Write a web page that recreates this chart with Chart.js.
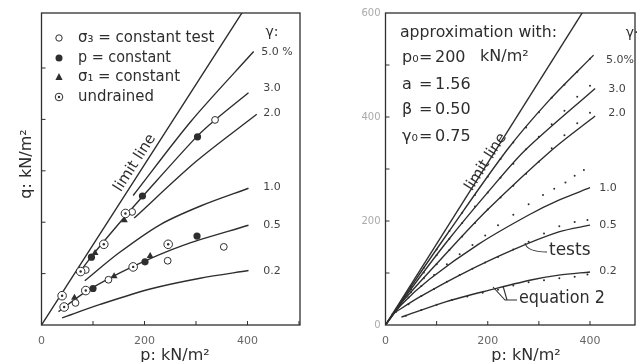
<!DOCTYPE html>
<html><head><meta charset="utf-8">
<script src="https://cdn.jsdelivr.net/npm/chart.js@4.4.1/dist/chart.umd.min.js"></script>
<style>
html,body{margin:0;padding:0;background:#fff;}
#wrap{position:relative;width:639px;height:362px;overflow:hidden;background:#fff;}
canvas{position:absolute;top:0;}
#cL{left:0;width:320px;height:362px;} #cR{left:320px;width:319px;height:362px;}
</style></head><body>
<div id="wrap"><canvas id="cL" width="320" height="362"></canvas><canvas id="cR" width="319" height="362"></canvas></div>
<script>
// ---------- tick labels / text ----------
const xTickLabels = ['0', '200', '400'];
const yTickLabelsRight = ['0', '200', '400', '600'];
const strainLabelsL = ['5.0 %', '3.0', '2.0', '1.0', '0.5', '0.2'];
const strainLabelsR = ['5.0%', '3.0', '2.0', '1.0', '0.5', '0.2'];
const legendLabels = ['σ₃ = constant test', 'p = constant', 'σ₁ = constant', 'undrained'];

// ---------- left panel: test curves (p, q in kN/m²) ----------
const limitP = [0, 400];            const limitQ = [0, 624];
const l50P = [178, 290, 412];        const l50Q = [252, 396, 532];
const l30P = [72, 100, 163, 198, 301, 337, 402]; const l30Q = [100, 137, 212, 252, 366, 399, 452];
const l20P = [180, 300, 418];        const l20Q = [208, 318, 410];
const l10P = [84, 150, 230, 310, 402]; const l10Q = [86, 140, 195, 232, 266];
const l05P = [33, 88, 178, 275, 402]; const l05Q = [26, 66, 114, 155, 194];
const l02P = [40, 114, 211, 308, 402]; const l02Q = [14, 40, 70, 91, 106];

// ---------- left panel: test points ----------
const openP = [66, 86, 130, 176, 245, 354, 337];   const openQ = [43, 107, 88, 220, 125, 152, 399];
const fillP = [100, 97, 196, 201, 302, 303];       const fillQ = [71, 132, 251, 123, 173, 366];
const triP = [64, 104, 141, 161, 211];             const triQ = [53, 140, 95, 204, 134];
const undrP = [40, 44, 76, 86, 121, 163, 178, 246]; const undrQ = [57, 35, 104, 67, 157, 217, 113, 157];

// ---------- right panel: tests (solid) ----------
const r50P = [0, 50, 120, 238, 320, 407];  const r50Q = [0, 74, 174, 337, 432, 519];
const r30P = [0, 40, 120, 200, 274, 410];  const r30Q = [0, 56, 160, 255, 337, 455];
const r20P = [0, 35, 119, 200, 326, 410];  const r20Q = [0, 47, 138, 222, 337, 402];
const r10P = [0, 30, 86, 183, 281, 339, 400]; const r10Q = [0, 38, 88, 156, 212, 240, 264];
const r05P = [12, 67, 151, 248, 339, 400]; const r05Q = [20, 54, 99, 144, 179, 192];
const r02P = [31, 119, 203, 287, 339, 400]; const r02Q = [15, 45, 67, 87, 96, 102];

// ---------- right panel: equation 2 (dots) ----------
const e50P = [25, 50, 75, 100, 125, 150, 175, 200, 225, 250, 275, 300, 325, 350, 375, 400];
const e50Q = [37, 74, 110, 145, 181, 216, 250, 285, 319, 351, 380, 409, 437, 462, 487, 512];
const e30P = [25, 50, 75, 100, 125, 150, 175, 200, 225, 250, 275, 300, 325, 350, 375, 400];
const e30Q = [35, 69, 101, 134, 166, 196, 228, 255, 283, 310, 338, 362, 386, 412, 439, 460];
const e20P = [25, 50, 75, 100, 125, 150, 175, 200, 225, 250, 275, 300, 325, 350, 375, 400];
const e20Q = [34, 63, 90, 117, 144, 170, 196, 222, 245, 268, 291, 314, 340, 365, 388, 408];
const e10P = [20, 45, 70, 95, 120, 145, 170, 195, 220, 250, 280, 308, 330, 352, 370, 388];
const e10Q = [26, 53, 75, 96, 117, 136, 154, 172, 192, 212, 232, 250, 262, 274, 287, 298];
const e05P = [20, 45, 70, 95, 120, 145, 170, 195, 220, 250, 280, 310, 340, 370, 395];
const e05Q = [25, 40, 56, 69, 83, 96, 108, 120, 131, 145, 160, 176, 190, 198, 202];
const e02P = [40, 70, 100, 130, 160, 190, 220, 250, 280, 310, 340, 370, 395];
const e02Q = [18, 29, 39, 48, 55, 62, 68, 76, 82, 86, 90, 93, 97];

// ---------- helpers ----------
const INK = '#2e2e2e';
function pts(p, q) { return p.map((v, i) => ({ x: v, y: q[i] })); }
function curve(p, q) {
  return { data: pts(p, q), showLine: true, borderColor: INK, borderWidth: 1.4, pointRadius: 0,
           tension: 0.3, fill: false };
}
function marks(p, q, style, r, bg, bw) {
  return { data: pts(p, q), showLine: false, pointStyle: style, pointRadius: r, pointBorderColor: INK,
           pointBackgroundColor: bg, pointBorderWidth: bw, borderColor: INK, backgroundColor: bg };
}
function txt(ctx, s, x, y, font, align, color, maxW) {
  ctx.font = font; ctx.textAlign = align || 'left'; ctx.textBaseline = 'middle';
  ctx.fillStyle = color || INK;
  if (maxW) ctx.fillText(s, x, y, maxW); else ctx.fillText(s, x, y);
}
function frameTicks(chart) {
  const { ctx, chartArea: a, scales: { x, y } } = chart;
  ctx.save(); ctx.strokeStyle = INK; ctx.lineWidth = 1.3;
  ctx.strokeRect(a.left, a.top, a.right - a.left, a.bottom - a.top);
  ctx.lineWidth = 1;
  ctx.beginPath();
  for (let v = 100; v < x.max; v += 100) { const px = x.getPixelForValue(v); ctx.moveTo(px, a.bottom); ctx.lineTo(px, a.bottom - 4); }
  for (let v = 100; v < y.max - 10; v += 100) { const py = y.getPixelForValue(v); ctx.moveTo(a.left, py); ctx.lineTo(a.left + 4, py); }
  ctx.stroke(); ctx.restore();
}
function limitText(chart, cx, cy) {
  const { ctx, scales: { x, y } } = chart;
  const x0 = x.getPixelForValue(0), y0 = y.getPixelForValue(0);
  const x1 = x.getPixelForValue(limitP[1]), y1 = y.getPixelForValue(limitQ[1]);
  const ang = Math.atan2(y1 - y0, x1 - x0);
  ctx.save(); ctx.translate(cx, cy); ctx.rotate(ang);
  txt(ctx, 'limit line', 0, 0, '15px "DejaVu Sans"', 'center', INK);
  ctx.restore();
}
function baseOpts(yw, xmax, ymax, padRight, showY) {
  return {
    responsive: false, animation: false, events: [],
    layout: { padding: { top: 13, right: padRight, left: 0, bottom: 0 } },
    plugins: { legend: { display: false }, tooltip: { enabled: false } },
    scales: {
      x: { type: 'linear', min: 0, max: xmax, grid: { display: false, drawTicks: false }, border: { display: false },
           afterFit: s => { s.height = 37; },
           afterBuildTicks: s => { s.ticks = [0, 100, 200, 300, 400].map(v => ({ value: v })); },
           ticks: { padding: 10, color: '#666', font: { size: 11, family: 'DejaVu Sans' }, maxRotation: 0, autoSkip: false,
                    callback: v => (v % 200 === 0 ? xTickLabels[v / 200] : '') } },
      y: { type: 'linear', min: 0, max: ymax, grid: { display: false, drawTicks: false }, border: { display: false },
           afterFit: s => { s.width = yw; },
           afterBuildTicks: s => { s.ticks = [0, 200, 400, 600].map(v => ({ value: v })); },
           ticks: { display: showY, padding: 5, color: '#aaa', font: { size: 10, family: 'DejaVu Sans' },
                    callback: v => yTickLabelsRight[v / 200] } }
    }
  };
}

// ---------- left chart ----------
const leftPlugin = {
  id: 'leftDeco',
  afterDraw(chart) {
    const ctx = chart.ctx;
    frameTicks(chart);
    ctx.save();
    const rows = [38, 58, 77, 97], mx = 59;
    ctx.strokeStyle = INK; ctx.fillStyle = INK; ctx.lineWidth = 1;
    ctx.beginPath(); ctx.arc(mx, rows[0], 3.2, 0, 2 * Math.PI); ctx.stroke();
    ctx.beginPath(); ctx.arc(mx, rows[1], 3.5, 0, 2 * Math.PI); ctx.fill();
    ctx.beginPath(); ctx.moveTo(mx, rows[2] - 4); ctx.lineTo(mx + 3.6, rows[2] + 3); ctx.lineTo(mx - 3.6, rows[2] + 3); ctx.closePath(); ctx.fill();
    ctx.beginPath(); ctx.arc(mx, rows[3], 3.8, 0, 2 * Math.PI); ctx.stroke();
    ctx.beginPath(); ctx.arc(mx, rows[3], 1.2, 0, 2 * Math.PI); ctx.fill();
    const widths = [144, 93, 102, 76];
    legendLabels.forEach((s, i) => txt(ctx, s, 78, rows[i], '15px "DejaVu Sans"', 'left', INK, widths[i]));
    txt(ctx, 'γ:', 272, 32, '14px "DejaVu Sans"', 'center', INK);
    const lp = [[277, 52], [272, 88], [272, 113], [272, 187], [272, 225], [272, 271]];
    strainLabelsL.forEach((s, i) => txt(ctx, s, lp[i][0], lp[i][1], '11px "DejaVu Sans"', 'center', '#444'));
    limitText(chart, 135, 163);
    ctx.save(); ctx.translate(27, 164); ctx.rotate(-Math.PI / 2);
    txt(ctx, 'q: kN/m²', 0, 0, '16px "DejaVu Sans"', 'center', INK); ctx.restore();
    txt(ctx, 'p: kN/m²', 175, 356, '16px "DejaVu Sans"', 'center', INK);
    ctx.restore();
  }
};
new Chart(document.getElementById('cL'), {
  type: 'scatter',
  data: { datasets: [
    marks(undrP, undrQ, 'circle', 1.2, INK, 0),
    marks(undrP, undrQ, 'circle', 4.3, '#fff', 1),
    marks(openP, openQ, 'circle', 3.4, '#fff', 1),
    marks(fillP, fillQ, 'circle', 3.6, INK, 0),
    marks(triP, triQ, 'triangle', 4, INK, 0),
    curve(limitP, limitQ), curve(l50P, l50Q), curve(l30P, l30Q), curve(l20P, l20Q),
    curve(l10P, l10Q), curve(l05P, l05Q), curve(l02P, l02Q)
  ] },
  options: baseOpts(41.5, 502, 607, 20, false),
  plugins: [leftPlugin]
});

// ---------- right chart ----------
const rightPlugin = {
  id: 'rightDeco',
  afterDraw(chart) {
    const ctx = chart.ctx, o = 320;
    frameTicks(chart);
    ctx.save();
    const F = '16px "DejaVu Sans"';
    txt(ctx, 'approximation with:', 400 - o, 33, F, 'left', INK, 157);
    const syms = ['p₀', 'a', 'β', 'γ₀'], vals = ['200', '1.56', '0.50', '0.75'], ys = [58, 85, 110, 137];
    syms.forEach((s, i) => {
      txt(ctx, s, 402 - o, ys[i], F, 'left', INK);
      txt(ctx, '=', 419 - o, ys[i], F, 'left', INK);
      txt(ctx, vals[i], 435 - o, ys[i], F, 'left', INK);
    });
    txt(ctx, 'kN/m²', 480 - o, ys[0] - 1, F, 'left', INK);
    txt(ctx, 'γ·', 632 - o, 33, '14px "DejaVu Sans"', 'center', INK);
    const rp = [[620, 60], [617, 89], [617, 113], [608, 188], [608, 225], [608, 271]];
    strainLabelsR.forEach((s, i) => txt(ctx, s, rp[i][0] - o, rp[i][1], '11px "DejaVu Sans"', 'center', '#444'));
    limitText(chart, 486 - o, 162);
    ctx.strokeStyle = INK; ctx.lineWidth = 1.1;
    ctx.beginPath(); ctx.moveTo(525 - o, 243); ctx.quadraticCurveTo(527 - o, 252, 547 - o, 252); ctx.stroke();
    txt(ctx, 'tests', 549 - o, 251, '17px "DejaVu Sans"', 'left', INK);
    ctx.beginPath(); ctx.moveTo(493 - o, 287); ctx.lineTo(505 - o, 300); ctx.lineTo(517 - o, 300);
    ctx.moveTo(503 - o, 286); ctx.lineTo(507 - o, 300); ctx.stroke();
    txt(ctx, 'equation 2', 519 - o, 299, '17px "DejaVu Sans"', 'left', INK, 86);
    txt(ctx, 'p: kN/m²', 526 - o, 356, '16px "DejaVu Sans"', 'center', INK);
    ctx.restore();
  }
};
function dots(p, q) { return marks(p, q, 'circle', 1.0, INK, 0); }
new Chart(document.getElementById('cR'), {
  type: 'scatter',
  data: { datasets: [
    dots(e50P, e50Q), dots(e30P, e30Q), dots(e20P, e20Q), dots(e10P, e10Q), dots(e05P, e05Q), dots(e02P, e02Q),
    curve(limitP, limitQ), curve(r50P, r50Q), curve(r30P, r30Q), curve(r20P, r20Q),
    curve(r10P, r10Q), curve(r05P, r05Q), curve(r02P, r02Q)
  ] },
  options: baseOpts(65.5, 488, 600, 2, true),
  plugins: [rightPlugin]
});
</script>
</body></html>
